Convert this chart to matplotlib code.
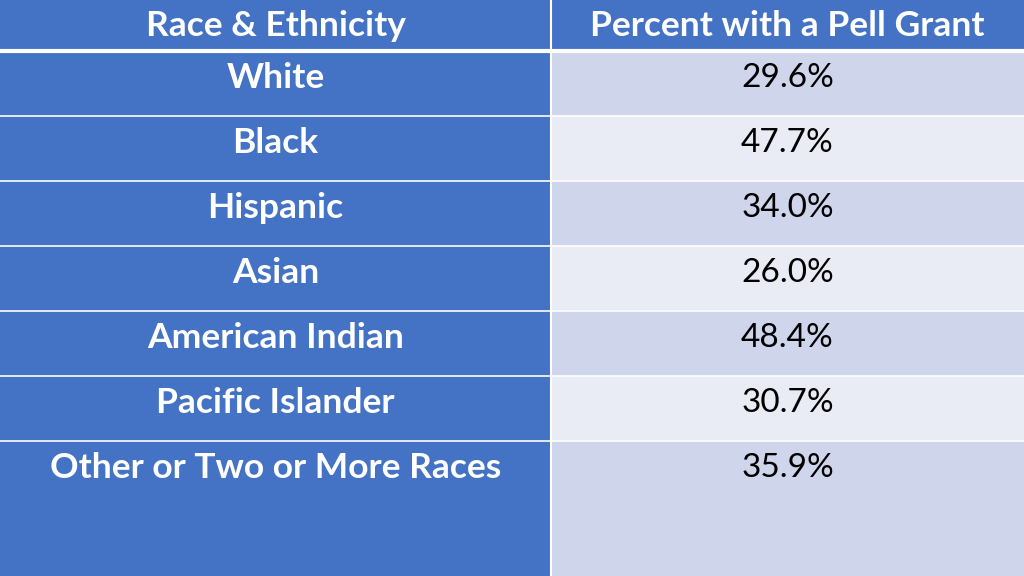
import matplotlib.pyplot as plt
from matplotlib.patches import Rectangle

header = ['Race & Ethnicity', 'Percent with a Pell Grant']
groups = ['White', 'Black', 'Hispanic', 'Asian', 'American Indian',
          'Pacific Islander', 'Other or Two or More Races']
pell_pct = [29.6, 47.7, 34.0, 26.0, 48.4, 30.7, 35.9]

blue = '#4472C4'
band1 = '#CFD5EA'
band2 = '#E9EBF5'

W, H = 1024, 576
split = 551
head_h = 51
row_h = 65
fnt = 'Lato'

fig = plt.figure(figsize=(10.24, 5.76), dpi=100)
ax = fig.add_axes([0, 0, 1, 1])
ax.set_xlim(0, W)
ax.set_ylim(H, 0)
ax.axis('off')

# header
ax.add_patch(Rectangle((0, 0), split, head_h, color=blue))
ax.add_patch(Rectangle((split, 0), W - split, head_h, color=blue))
ax.text(split / 2, 26, header[0], ha='center', va='center', color='white',
        fontsize=25.5, fontweight='bold', family=fnt)
ax.text((split + W) / 2, 26, header[1], ha='center', va='center', color='white',
        fontsize=25.5, fontweight='bold', family=fnt)

for i, (g, v) in enumerate(zip(groups, pell_pct)):
    top = head_h + i * row_h
    h = row_h if i < len(groups) - 1 else H - top
    ax.add_patch(Rectangle((0, top), split, h, color=blue))
    ax.add_patch(Rectangle((split, top), W - split, h,
                           color=band1 if i % 2 == 0 else band2))
    ax.text(split / 2, top + 27, g, ha='center', va='center', color='white',
            fontsize=25.5, fontweight='bold', family=fnt)
    ax.text((split + W) / 2, top + 27, f'{v:.1f}%', ha='center', va='center',
            color='black', fontsize=24, family=fnt)
    # white separators between rows
    ax.plot([0, W], [top, top], color='white', lw=3 if i == 0 else 1.2)

ax.plot([split, split], [0, H], color='white', lw=1.5)

fig.savefig('out.png', dpi=100)
